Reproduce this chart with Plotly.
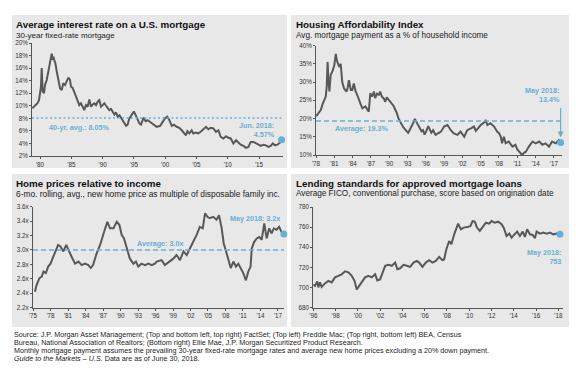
import plotly.graph_objects as go

W, H = 578, 370
FONT = "Liberation Sans, Arial, sans-serif"
LINE = "#585858"
BLUE = "#6aafd3"
PANEL = "#e8e8e8"

# ---------------- data ----------------
rate_years = [1978.77, 1979.2, 1979.6, 1979.84, 1980.0, 1980.15, 1980.27, 1980.43, 1980.64, 1980.8,
              1981.07, 1981.33, 1981.6, 1981.75, 1981.87, 1982.03, 1982.15, 1982.24, 1982.45, 1982.67,
              1982.92, 1983.2, 1983.47, 1983.72, 1984.0, 1984.27, 1984.53, 1984.8, 1984.95, 1985.2,
              1985.47, 1985.74, 1986.0, 1986.28, 1986.55, 1986.82, 1987.07, 1987.34, 1987.6, 1987.88,
              1988.15, 1988.42, 1988.68, 1988.95, 1989.22, 1989.48, 1989.75, 1990.02, 1990.28, 1990.55,
              1990.82, 1991.07, 1991.35, 1991.62, 1991.88, 1992.15, 1992.42, 1992.7, 1992.95, 1993.22,
              1993.5, 1993.75, 1994.0, 1994.28, 1994.55, 1994.82, 1995.0, 1995.34, 1995.6, 1995.88,
              1996.14, 1996.55, 1996.87, 1997.2, 1997.55, 1998.1, 1998.65, 1999.2, 1999.6, 1999.98,
              2000.35, 2000.67, 2001.05, 2001.4, 2001.85, 2002.26, 2002.65, 2003.0, 2003.33, 2003.54,
              2003.86, 2004.24, 2004.5, 2004.93, 2005.3, 2005.68, 2006.1, 2006.53, 2006.9, 2007.28,
              2007.7, 2008.13, 2008.5, 2008.88, 2009.3, 2009.73, 2010.1, 2010.48, 2010.9, 2011.33,
              2011.7, 2012.08, 2012.5, 2012.92, 2013.3, 2013.68, 2014.1, 2014.52, 2014.9, 2015.27,
              2015.7, 2016.12, 2016.5, 2016.87, 2017.2, 2017.56, 2017.93, 2018.36, 2018.6]
rate_vals = [9.6, 10.1, 10.4, 10.9, 12.5, 13.0, 16.0, 12.25, 12.0, 13.3,
             14.1, 15.5, 16.8, 17.5, 18.3, 17.3, 17.8, 17.4, 16.8, 15.5,
             13.9, 12.8, 12.5, 13.6, 13.3, 13.9, 14.5, 14.1, 13.05, 12.9,
             12.25, 11.7, 10.9, 10.1, 10.4, 9.85, 9.3, 10.1, 9.85, 11.0,
             9.85, 10.2, 10.4, 10.1, 10.65, 10.9, 9.85, 10.1, 10.4, 10.0,
             9.6, 9.3, 9.5, 9.05, 8.6, 8.95, 8.25, 8.5, 8.1, 7.7,
             7.35, 6.8, 7.0, 8.0, 8.4, 8.8, 9.1, 8.4, 7.7, 7.2,
             7.0, 8.1, 7.55, 7.7, 7.45, 7.0, 6.65, 6.8, 7.45, 8.0,
             8.25, 7.7, 6.8, 7.0, 6.65, 6.5, 6.1, 5.75, 5.3, 5.95,
             5.6, 6.1, 5.6, 5.75, 5.6, 5.85, 6.25, 6.65, 6.25, 6.5,
             6.4, 5.85, 6.1, 5.05, 4.8, 5.15, 4.9, 4.8, 4.0, 4.5,
             4.15, 3.8, 3.6, 3.3, 3.45, 4.25, 4.25, 4.0, 3.8, 3.6,
             3.8, 3.7, 3.45, 3.6, 4.0, 3.7, 3.8, 4.15, 4.57]
rate_avg = 8.05

afford_years = [1978.0, 1978.4, 1978.8, 1979.1, 1979.35, 1979.6, 1979.75, 1979.9, 1980.05, 1980.2,
                1980.4, 1980.7, 1981.0, 1981.15, 1981.25, 1981.4, 1981.5, 1981.8, 1982.05, 1982.3,
                1982.6, 1983.0, 1983.2, 1983.4, 1983.7, 1983.95, 1984.2, 1984.5, 1984.75, 1985.0,
                1985.3, 1985.6, 1986.1, 1986.4, 1986.65, 1986.9, 1987.2, 1987.5, 1987.7, 1988.0,
                1988.3, 1988.5, 1988.8, 1989.1, 1989.35, 1989.6, 1989.9, 1990.4, 1990.7, 1991.0,
                1991.25, 1991.5, 1991.8, 1992.05, 1992.3, 1992.6, 1992.85, 1993.1, 1993.4, 1993.7,
                1994.0, 1994.2, 1994.5, 1994.8, 1995.05, 1995.3, 1995.55, 1995.8, 1996.1, 1996.4,
                1996.65, 1996.9, 1997.2, 1997.6, 1998.0, 1998.5, 1999.0, 1999.55, 2000.1, 2000.6,
                2001.2, 2001.7, 2002.3, 2002.8, 2003.4, 2003.9, 2004.2, 2004.5, 2005.0, 2005.55,
                2005.8, 2006.1, 2006.6, 2007.2, 2007.7, 2008.0, 2008.3, 2008.5, 2008.8, 2009.1,
                2009.6, 2010.2, 2010.7, 2011.0, 2011.3, 2011.8, 2012.1, 2012.4, 2012.9, 2013.5,
                2014.0, 2014.6, 2015.1, 2015.6, 2016.2, 2016.7, 2017.3, 2017.8, 2018.1]
afford_vals = [20.6, 21.5, 22.4, 24.0, 25.1, 26.0, 28.5, 35.5, 30.0, 27.4,
               31.9, 33.0, 34.6, 36.5, 37.7, 36.0, 35.5, 34.1, 35.0, 30.0,
               28.2, 27.4, 28.5, 30.5, 27.8, 27.8, 29.6, 27.4, 26.5, 25.1,
               24.0, 22.8, 23.3, 22.5, 21.9, 26.9, 26.0, 27.4, 25.6, 26.8,
               26.5, 27.4, 26.0, 25.5, 24.6, 25.8, 25.1, 24.2, 23.5, 22.4,
               21.5, 20.1, 19.0, 18.3, 17.6, 17.0, 16.5, 16.1, 17.0, 17.9,
               19.0, 19.9, 19.0, 18.3, 17.2, 16.5, 16.8, 15.6, 16.6, 17.9,
               17.0, 16.1, 16.8, 15.5, 15.9, 16.4, 17.8, 18.2, 16.8, 15.9,
               15.5, 16.4, 15.0, 16.8, 17.3, 17.8, 16.6, 17.3, 18.2, 18.9,
               19.6, 18.2, 18.7, 17.8, 16.4, 16.0, 15.0, 13.2, 15.0, 13.2,
               13.7, 12.3, 12.8, 11.5, 10.9, 10.0, 10.6, 10.9, 12.3, 13.7,
               13.2, 13.7, 12.8, 13.2, 12.3, 13.7, 13.2, 14.1, 13.4]
afford_avg = 19.3

pi_years = [1975.34, 1975.6, 1976.1, 1976.5, 1976.8, 1977.2, 1977.6, 1978.0, 1978.5, 1978.9,
            1979.3, 1979.7, 1980.2, 1980.7, 1981.05, 1981.6, 1982.2, 1982.8, 1983.35, 1983.9,
            1984.5, 1984.9, 1985.3, 1985.9, 1986.5, 1986.95, 1987.3, 1987.75, 1988.2, 1988.8,
            1989.35, 1989.8, 1990.2, 1990.6, 1991.1, 1991.6, 1992.2, 1992.65, 1993.05, 1993.6,
            1994.2, 1994.8, 1995.35, 1995.9, 1996.2, 1997.05, 1997.6, 1998.5, 1999.05, 1999.6,
            2000.2, 2000.8, 2001.35, 2001.9, 2002.5, 2003.05, 2003.6, 2004.1, 2004.5, 2004.9,
            2005.3, 2005.9, 2006.45, 2006.9, 2007.35, 2007.7, 2008.1, 2008.5, 2008.9, 2009.35,
            2009.8, 2010.2, 2010.6, 2011.05, 2011.5, 2011.9, 2012.3, 2012.5, 2012.9, 2013.35,
            2013.8, 2014.2, 2014.65, 2015.05, 2015.5, 2015.9, 2016.3, 2016.75, 2017.2, 2017.6,
            2018.0]
pi_vals = [2.42, 2.51, 2.61, 2.63, 2.70, 2.68, 2.77, 2.81, 2.91, 3.0,
           3.07, 3.05, 2.98, 3.07, 3.0, 2.91, 2.81, 2.84, 2.79, 2.81,
           2.79, 2.75, 2.79, 2.95, 3.07, 3.21, 3.28, 3.39, 3.30, 3.30,
           3.39, 3.35, 3.21, 3.16, 3.02, 2.88, 2.81, 2.84, 2.77, 2.81,
           2.79, 2.81, 2.79, 2.81, 2.84, 2.86, 2.79, 2.84, 2.88, 2.93,
           2.86, 2.98, 2.93, 3.02, 3.11, 3.21, 3.32, 3.30, 3.51, 3.46,
           3.44, 3.46, 3.42, 3.48, 3.30, 3.09, 2.98, 2.88, 2.75, 2.84,
           2.77, 2.81, 2.75, 2.68, 2.58, 2.70, 2.77, 3.02, 3.11, 3.16,
           3.18, 3.14, 3.37, 3.16, 3.30, 3.23, 3.30, 3.28, 3.32, 3.25,
           3.22]
pi_avg = 3.0

fico_years = [1996.0, 1996.15, 1996.36, 1996.45, 1996.6, 1996.75, 1997.05, 1997.35, 1997.65, 1997.95,
              1998.25, 1998.55, 1998.85, 1999.15, 1999.45, 1999.7, 1999.9, 2000.1, 2000.35, 2000.65,
              2000.95, 2001.25, 2001.55, 2001.75, 2002.0, 2002.25, 2002.45, 2002.75, 2003.05, 2003.35,
              2003.55, 2003.8, 2004.1, 2004.4, 2004.7, 2005.0, 2005.3, 2005.5, 2005.8, 2006.1,
              2006.4, 2006.7, 2007.0, 2007.3, 2007.6, 2007.75, 2007.95, 2008.2, 2008.4, 2008.65,
              2008.9, 2009.0, 2009.25, 2009.5, 2009.8, 2010.1, 2010.3, 2010.5, 2010.7, 2010.95,
              2011.2, 2011.5, 2011.8, 2012.0, 2012.3, 2012.6, 2012.9, 2013.1, 2013.35, 2013.6,
              2013.8, 2014.1, 2014.3, 2014.55, 2014.8, 2015.0, 2015.2, 2015.45, 2015.7, 2015.9,
              2016.05, 2016.35, 2016.65, 2016.95, 2017.25, 2017.55, 2017.85, 2018.15]
fico_vals = [703, 701.5, 706, 700, 705, 700.5, 704, 706.5, 705, 710,
             711.5, 713, 716, 715, 711.5, 706.5, 698, 701.5, 705, 710,
             711.5, 710, 713, 707, 708, 716.5, 721.5, 722.5, 721.5, 724.7,
             718, 719, 722.5, 721.5, 720.4, 724.7, 726.4, 724.7, 720.4, 724.7,
             727, 724.7, 726.4, 730.3, 727, 728, 738, 746.2, 743, 752.8,
             759.5, 763.4, 757.8, 759.5, 760, 761, 766, 765.4, 759.5, 756.2,
             760, 764.4, 763.4, 766, 764.4, 765.4, 762.8, 759.5, 751.2, 753.5,
             749.5, 752.8, 755.5, 751.2, 755.5, 750.2, 757.8, 752.8, 752.2, 748.9,
             755.5, 753.5, 754.5, 753.5, 754.5, 752.8, 753.5, 753]

rate_ticks = list(range(1980, 2016, 5))
afford_ticks = list(range(1978, 2018, 3))
pi_ticks = list(range(1975, 2018, 3))
fico_ticks = list(range(1996, 2019, 2))


def yr_lab(v):
    return "'" + str(v)[2:]


def px(x):
    return x / W


def py(y):
    return 1 - y / H


fig = go.Figure()

# panel backgrounds
panels = [(12, 15, 287, 168), (291, 15, 569, 168), (12, 174, 287, 327), (291, 174, 569, 327)]
shapes = []
for (x0, y0, x1, y1) in panels:
    shapes.append(dict(type="rect", xref="paper", yref="paper", x0=px(x0), x1=px(x1),
                       y0=py(y1), y1=py(y0), fillcolor=PANEL, line=dict(width=0), layer="below"))

series = [
    ("x", "y", rate_years, rate_vals),
    ("x2", "y2", afford_years, afford_vals),
    ("x3", "y3", pi_years, pi_vals),
    ("x4", "y4", fico_years, fico_vals),
]
for xa, ya, xs, ys in series:
    fig.add_trace(go.Scatter(x=xs, y=ys, xaxis=xa, yaxis=ya, mode="lines",
                             line=dict(color=LINE, width=2), hoverinfo="skip", showlegend=False))
    fig.add_trace(go.Scatter(x=[xs[-1]], y=[ys[-1]], xaxis=xa, yaxis=ya, mode="markers",
                             marker=dict(color=BLUE, size=7), hoverinfo="skip", showlegend=False,
                             cliponaxis=False))

# average lines
shapes.append(dict(type="line", xref="x domain", yref="y", x0=0, x1=1, y0=rate_avg, y1=rate_avg,
                   line=dict(color=BLUE, width=1.6, dash="2px,2.5px")))
shapes.append(dict(type="line", xref="x2 domain", yref="y2", x0=0, x1=1, y0=afford_avg, y1=afford_avg,
                   line=dict(color=BLUE, width=1.6, dash="5px,3px")))
shapes.append(dict(type="line", xref="x3 domain", yref="y3", x0=0, x1=1, y0=pi_avg, y1=pi_avg,
                   line=dict(color=BLUE, width=1.6, dash="5px,3px")))

tickfont = dict(family=FONT, size=6.3, color="#333333")
common = dict(showgrid=False, zeroline=False, showline=True, linecolor="#555555", linewidth=1,
              ticks="outside", ticklen=2, tickcolor="#555555", tickfont=tickfont, fixedrange=True,
              automargin=False)

fig.update_layout(
    xaxis=dict(domain=[px(32), px(283)], range=[1978.72, 2018.83], anchor="y",
               tickvals=rate_ticks, ticktext=[yr_lab(v) for v in rate_ticks], **common),
    yaxis=dict(domain=[py(156), py(43)], range=[2, 20], anchor="x",
               tickvals=list(range(2, 21, 2)), ticktext=[f"{v}%" for v in range(2, 21, 2)], **common),
    xaxis2=dict(domain=[px(316), px(562)], range=[1978, 2018.33], anchor="y2",
                tickvals=afford_ticks, ticktext=[yr_lab(v) for v in afford_ticks], **common),
    yaxis2=dict(domain=[py(155), py(45.5)], range=[10, 40], anchor="x2",
                tickvals=list(range(10, 41, 5)), ticktext=[f"{v}%" for v in range(10, 41, 5)], **common),
    xaxis3=dict(domain=[px(33), px(284)], range=[1975, 2018.03], anchor="y3",
                tickvals=pi_ticks, ticktext=[yr_lab(v) for v in pi_ticks], **common),
    yaxis3=dict(domain=[py(307.7), py(206.7)], range=[2.2, 3.6], anchor="x3",
                tickvals=[2.2, 2.4, 2.6, 2.8, 3.0, 3.2, 3.4, 3.6],
                ticktext=[f"{v:.1f}x" for v in [2.2, 2.4, 2.6, 2.8, 3.0, 3.2, 3.4, 3.6]], **common),
    xaxis4=dict(domain=[px(313.3), px(563)], range=[1996, 2018.42], anchor="y4",
                tickvals=fico_ticks, ticktext=[yr_lab(v) for v in fico_ticks], **common),
    yaxis4=dict(domain=[py(307.5), py(207)], range=[680, 780], anchor="x4",
                tickvals=list(range(680, 781, 20)), **common),
)

ann = []


def text(x, y, s, size, color="#111111", bold=False, xanchor="left", align="left"):
    if bold:
        s = "<b>" + s + "</b>"
    ann.append(dict(xref="paper", yref="paper", x=px(x), y=py(y), text=s, showarrow=False,
                    xanchor=xanchor, yanchor="middle", align=align,
                    font=dict(family=FONT, size=size, color=color)))


# titles
text(14, 24, "Average interest rate on a U.S. mortgage", 9.8, bold=True)
text(14, 35, "30-year fixed-rate mortgage", 8.0, "#222222")
text(294, 24, "Housing Affordability Index", 9.8, bold=True)
text(294, 35, "Avg. mortgage payment as a % of household income", 8.2, "#222222")
text(14, 183, "Home prices relative to income", 9.8, bold=True)
text(14, 193.5, "6-mo. rolling, avg., new home price as multiple of disposable family inc.", 8.4, "#222222")
text(294, 183, "Lending standards for approved mortgage loans", 9.8, bold=True)
text(294, 193.5, "Average FICO, conventional purchase, score based on origination date", 8.2, "#222222")

# blue annotations
text(47, 127.7, "40-yr. avg.: 8.05%", 7.2, BLUE, bold=True)
text(277, 130, "Jun. 2018:<br>4.57%", 7.2, BLUE, bold=True, xanchor="right", align="right")
text(333, 128, "Average: 19.3%", 7.2, BLUE, bold=True)
text(562, 95.5, "May 2018:<br>13.4%", 7.2, BLUE, bold=True, xanchor="right", align="right")
text(135, 243.3, "Average: 3.0x", 7.2, BLUE, bold=True)
text(282, 219, "May 2018: 3.2x", 7.2, BLUE, bold=True, xanchor="right", align="right")
text(563, 257, "May 2018:<br>753", 7.2, BLUE, bold=True, xanchor="right", align="right")

# arrow (panel 2)
ann.append(dict(xref="x2", yref="y2", x=afford_years[-1], y=afford_vals[-1], text="", showarrow=True,
                ax=0, ay=-36, arrowhead=2, arrowsize=1, arrowwidth=1.2, arrowcolor=BLUE, standoff=5))

# footnotes
foot = [
    "Source: J.P. Morgan Asset Management; (Top and bottom left, top right) FactSet; (Top left) Freddie Mac; (Top right, bottom left) BEA, Census",
    "Bureau, National Association of Realtors; (Bottom right) Ellie Mae, J.P. Morgan Securitized Product Research.",
    "Monthly mortgage payment assumes the prevailing 30-year fixed-rate mortgage rates and average new home prices excluding a 20% down payment.",
    "<i>Guide to the Markets – U.S.</i> Data are as of June 30, 2018.",
]
for i, s in enumerate(foot):
    text(12, 334.5 + i * 8, s, 7.2, "#222222")

fig.update_layout(
    width=W, height=H, margin=dict(l=0, r=0, t=0, b=0, autoexpand=False),
    paper_bgcolor="white", plot_bgcolor="rgba(0,0,0,0)",
    shapes=shapes, annotations=ann, showlegend=False,
    font=dict(family=FONT),
)

fig.write_html("out.html", config={"displayModeBar": False, "staticPlot": True},
               post_script="document.body.style.margin='0';document.body.style.overflow='hidden';")
